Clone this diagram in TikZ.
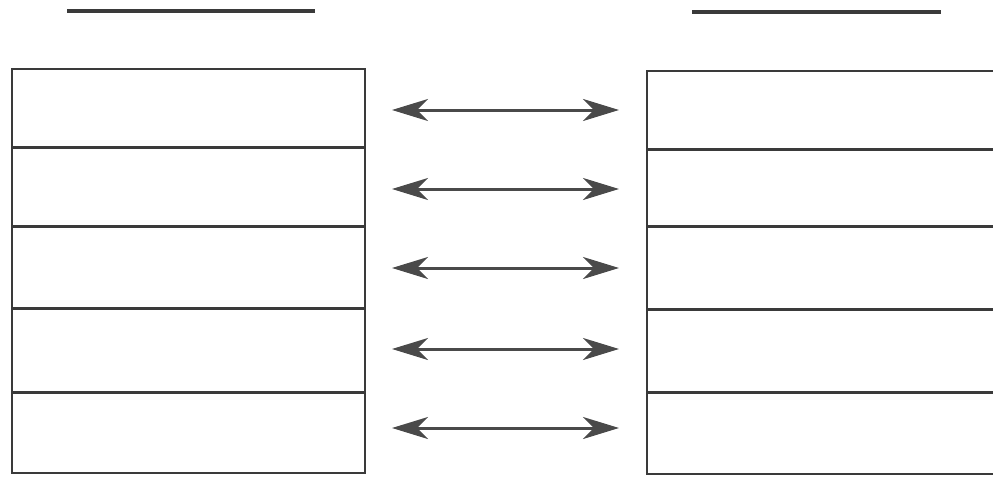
\documentclass[tikz,border=0pt]{standalone}
\usetikzlibrary{arrows.meta}
\definecolor{ink}{HTML}{3A3A3A}
\definecolor{arrowink}{HTML}{4A4A4A}
\begin{document}
\begin{tikzpicture}[x=1pt,y=-1pt,
  boxframe/.style={draw=ink,line width=1.8pt,rectangle,inner sep=0pt,anchor=north west},
  divider/.style={draw=ink,line width=3pt},
  headline/.style={draw=ink,line width=3.2pt},
  tipshape/.style={},
  link/.style={draw=arrowink,line width=3pt,{Stealth[length=36pt,width=22pt,inset=11pt]}-{Stealth[length=36pt,width=22pt,inset=11pt]}}]
\useasboundingbox (0,0) rectangle (993,479);
\clip (0,0) rectangle (993,479);
% header lines
\coordinate (hl1) at (67,11);
\coordinate (hl2) at (315,11);
\coordinate (hr1) at (692,12);
\coordinate (hr2) at (941,12);
\draw[headline] (hl1) -- (hl2);
\draw[headline] (hr1) -- (hr2);
% boxes
\node[boxframe,minimum width=353pt,minimum height=404pt] (L) at (11,68) {};
\node[boxframe,minimum width=360pt,minimum height=403pt] (R) at (646,70) {};
% dividers left
\foreach \y [count=\i] in {147,226,308,392}{
  \coordinate (la\i) at (11,\y);
  \coordinate (lb\i) at (364,\y);
  \draw[divider] (la\i) -- (lb\i);
}
% dividers right
\foreach \y [count=\i] in {149,226,309,392}{
  \coordinate (ra\i) at (646,\y);
  \coordinate (rb\i) at (1006,\y);
  \draw[divider] (ra\i) -- (rb\i);
}
% arrows
\foreach \y [count=\i] in {110,189,268,349,428}{
  \coordinate (aL\i) at (392,\y);
  \coordinate (aR\i) at (619,\y);
  \draw[link] (aL\i) -- (aR\i);
}
\end{tikzpicture}
\end{document}
